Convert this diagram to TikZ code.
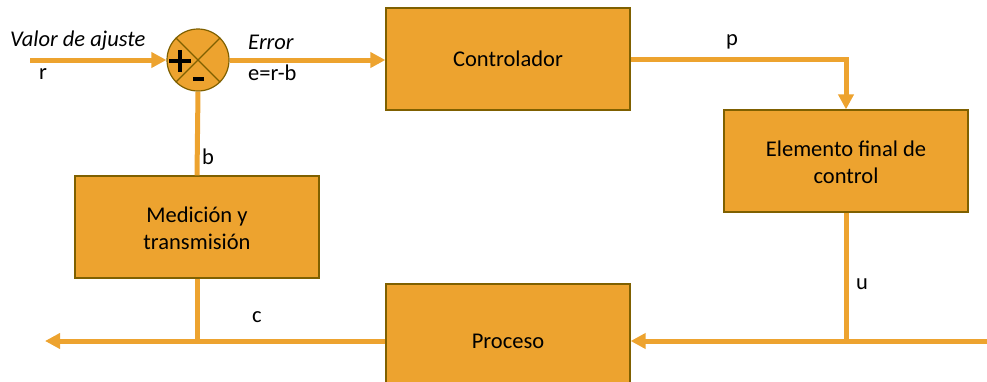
\documentclass[tikz,border=0pt]{standalone}
\usepackage{fontspec}
\setmainfont{Carlito}
\usetikzlibrary{arrows.meta,positioning}
\definecolor{naranja}{HTML}{EDA32F}
\definecolor{borde}{HTML}{7F6000}

\tikzset{
  bloque/.style={draw=borde, line width=1.2pt, fill=naranja, minimum width=244pt,
    minimum height=102pt, align=center, font=\fontsize{22.5}{27}\selectfont},
  senal/.style={draw=naranja, line width=5pt, -{Triangle[length=15pt,width=15pt]}},
  linea/.style={draw=naranja, line width=5pt},
  etiq/.style={font=\fontsize{22.5}{27}\selectfont, inner sep=0pt},
}

\begin{document}
\begin{tikzpicture}[x=1pt,y=-1pt]
    \useasboundingbox (0,0) rectangle (987,381);
    \clip (0,0) rectangle (987,381);
    % bloques
    \node[bloque] (ctrl) at (508,59) {Controlador};
    \node[bloque] (efc) at (846,161) {\strut Elemento final de\\control};
    \node[bloque] (medic) at (197,227) {\strut Medición y\\transmisión};
    \node[bloque, minimum height=114pt] (proc) at (508,341) {Proceso};
    % comparador
    \node[circle, draw=borde, line width=1.2pt, fill=naranja, minimum size=62pt,
      inner sep=0pt] (sum) at (198,60) {};
    \draw[borde, line width=1.2pt] (sum.north west) -- (sum.south east)
        (sum.north east) -- (sum.south west);
    \draw[line width=3.5pt] (169,61) -- (191,61) (180,50) -- (180,72);
    \draw[line width=3.5pt] (193,79) -- (204,79);
    % puntos libres
    \coordinate (entrada) at (30,60);
    \coordinate (salida) at (45,341);
    \coordinate (perturb) at (987,341);
    % senales
    \draw[senal] (entrada) -- (sum.west);
    \draw[senal] (sum.east) -- (sum.east -| ctrl.west);
    \draw[senal] (ctrl.east) -| (efc.north);
    \draw[linea] (efc.south) -- (efc.south |- proc.east);
    \draw[senal] (perturb) -- (proc.east);
    \draw[senal] (proc.west) -- (salida);
    \draw[linea] (medic.south) -- (medic.south |- proc.west);
    \draw[linea] (sum.south) -- (medic.north);
    % etiquetas
    \node[etiq, anchor=west] (valor) at (10,41) {\itshape Valor de ajuste};
    \node[etiq] (r) at (43,74) {r};
    \node[etiq, anchor=west] (error) at (248,42) {\itshape Error};
    \node[etiq, anchor=west] (e) at (248,73) {e=r-b};
    \node[etiq] (p) at (732,42) {p};
    \node[etiq] (b) at (208,157) {b};
    \node[etiq] (u) at (862,284) {u};
    \node[etiq] (c) at (257,317) {c};
\end{tikzpicture}
\end{document}
